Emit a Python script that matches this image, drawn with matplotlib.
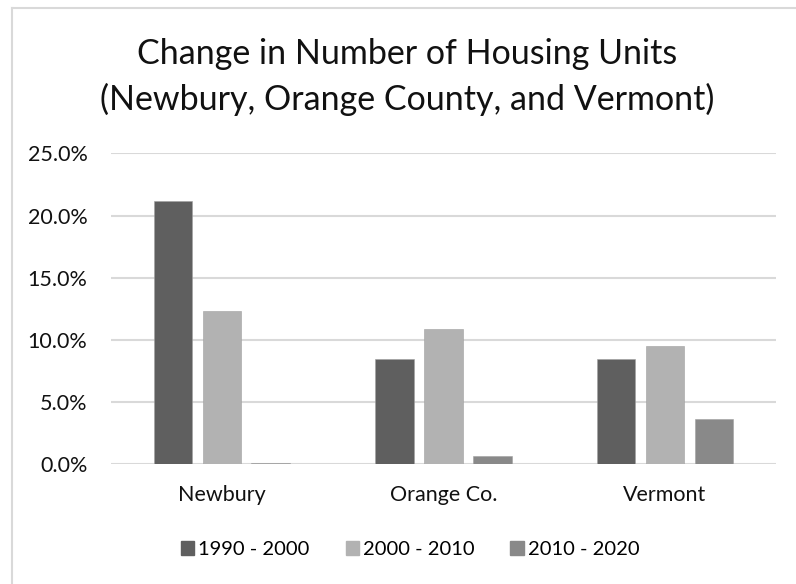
import numpy as np
import matplotlib.pyplot as plt
from matplotlib.lines import Line2D
from matplotlib.ticker import FuncFormatter

plt.rcParams['font.family'] = ['Lato', 'DejaVu Sans']

categories = ["Newbury", "Orange Co.", "Vermont"]
periods = ["1990 - 2000", "2000 - 2010", "2010 - 2020"]
v_1990_2000 = [21.15, 8.47, 8.50]
v_2000_2010 = [12.33, 10.86, 9.54]
v_2010_2020 = [0.08, 0.67, 3.62]
series = [v_1990_2000, v_2000_2010, v_2010_2020]
cores = ['#5f5f5f', '#b2b2b2', '#898989']

W, H = 796, 584
fig = plt.figure(figsize=(W / 100, H / 100), dpi=100)
ax = fig.add_axes([111 / W, 1 - 464.3 / H, (775.7 - 111) / W, (464.3 - 153.3) / H])

x = np.arange(len(categories))
largura = 0.174
passo = 0.221
for i, (vals, cor) in enumerate(zip(series, cores)):
    ax.bar(x + (i - 1) * passo, vals, largura, color=cor, label=periods[i],
           edgecolor='#a0a0a0', linewidth=0.4, zorder=3)

ax.set_xlim(-0.5, 2.5)
ax.set_ylim(0, 25)
ax.set_yticks(np.arange(0, 26, 5))
ax.yaxis.set_major_formatter(FuncFormatter(lambda v, p: '%.1f%%' % v))
ax.set_xticks(x)
ax.set_xticklabels(categories)
ax.grid(axis='y', color='#d9d9d9', linewidth=1.5, zorder=0)
for s in ['top', 'right', 'left', 'bottom']:
    ax.spines[s].set_visible(False)
ax.tick_params(axis='both', length=0, labelsize=15.5, colors='#111111')
ax.tick_params(axis='y', pad=17)
ax.tick_params(axis='x', pad=15)

fig.text(407 / W, 1 - 77 / H, "Change in Number of Housing Units\n(Newbury, Orange County, and Vermont)",
         ha='center', va='center', fontsize=24.5, linespacing=1.5, color='#111111')

handles = [plt.Rectangle((0, 0), 1, 1, color=c) for c in cores]
fig.legend(handles, periods, loc='center', bbox_to_anchor=(410 / W, 1 - 549.5 / H), ncol=3,
           frameon=False, fontsize=14.5, handlelength=0.65, handleheight=0.65,
           handletextpad=0.2, columnspacing=1.8)

# moldura da area do grafico
fig.add_artist(Line2D([12 / W, 12 / W], [0, 1 - 8 / H], color='#d9d9d9', lw=1.5))
fig.add_artist(Line2D([12 / W, 1], [1 - 8 / H, 1 - 8 / H], color='#d9d9d9', lw=1.5))

fig.savefig('out.png', dpi=100)
